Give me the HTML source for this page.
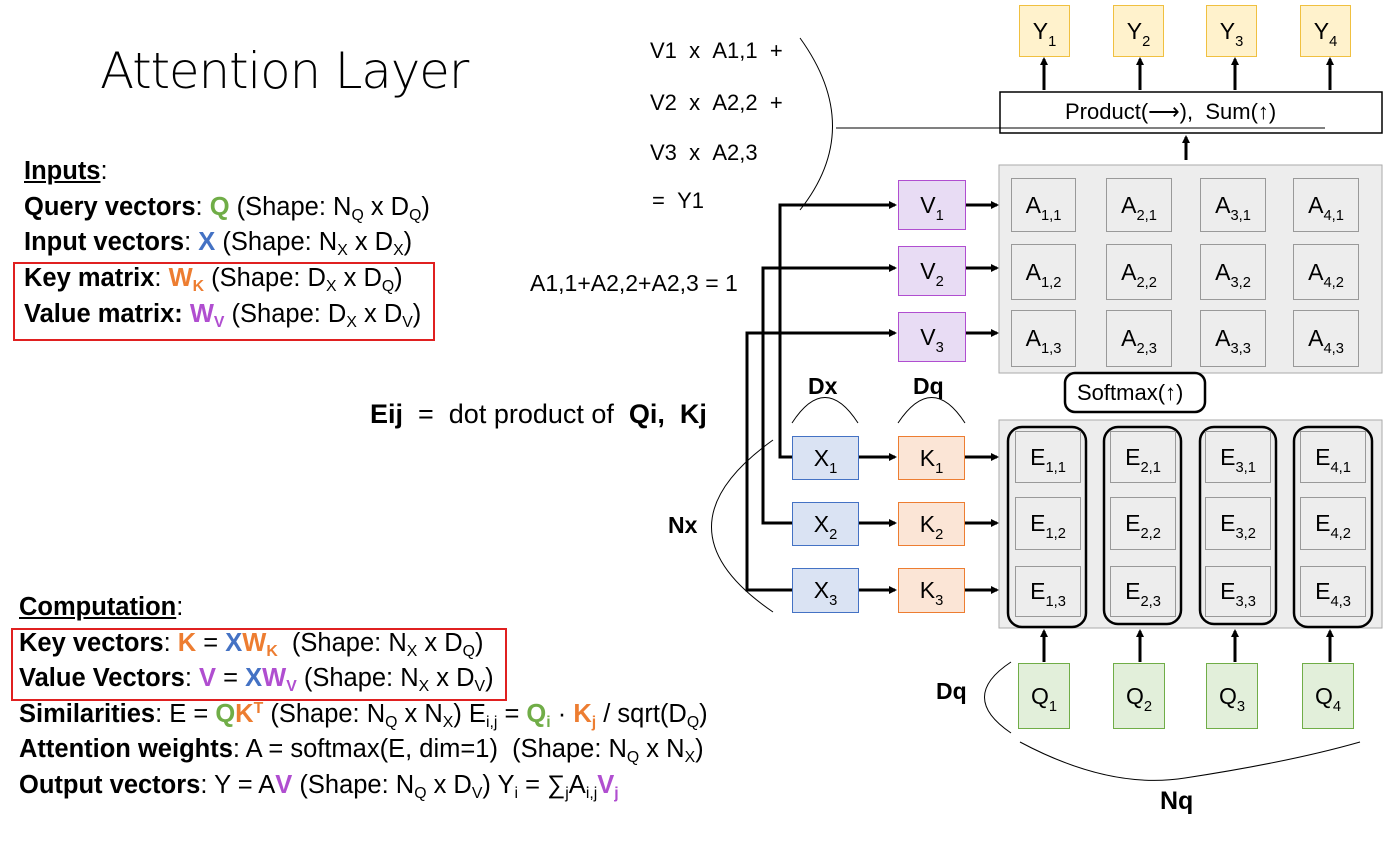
<!DOCTYPE html>
<html><head><meta charset="utf-8"><style>
body{margin:0;width:1400px;height:847px;background:#fff;position:relative;overflow:hidden;font-family:"Liberation Sans",sans-serif;color:#000}
.t{position:absolute;white-space:nowrap}
.l{position:absolute;font-size:25.5px;white-space:nowrap;left:24px}
b{font-weight:bold}
sub{font-size:62%;vertical-align:-5px;line-height:0}
sup{font-size:62%;vertical-align:9px;line-height:0}
.g{color:#70ad47}.bl{color:#4472c4}.o{color:#ed7d31}.p{color:#b04ed0}
.c{position:absolute;display:flex;align-items:center;justify-content:center;font-size:23px;box-sizing:border-box}
.c span sub{font-size:64%;vertical-align:-7px}
</style></head><body>
<svg width="1400" height="847" style="position:absolute;left:0;top:0">
<defs><marker id="a" markerWidth="8" markerHeight="8" refX="6" refY="4" orient="auto" markerUnits="userSpaceOnUse"><path d="M0,0 L8,4 L0,8 z" fill="#000"/></marker></defs>
<rect x="14" y="263" width="420" height="77" fill="none" stroke="#e02020" stroke-width="2"/>
<rect x="12" y="629" width="494" height="71" fill="none" stroke="#e02020" stroke-width="2"/>
<rect x="999" y="165" width="383" height="208" fill="#ededed" stroke="#aaa"/>
<rect x="999" y="420" width="383" height="208" fill="#ededed" stroke="#aaa"/>
<rect x="1000" y="92" width="382" height="41" fill="#fff" stroke="#000" stroke-width="1.5"/>
<line x1="836" y1="128" x2="1325" y2="128" stroke="#000" stroke-width="1"/>
<path d="M800,38 Q865,128 800,210" fill="none" stroke="#000" stroke-width="1"/>
<path d="M773,440 Q650,528 773,612" fill="none" stroke="#000" stroke-width="1"/>
<path d="M1011,662 Q958,697 1011,733" fill="none" stroke="#000" stroke-width="1"/>
<path d="M1020,742 Q1110,790 1185,778 Q1290,762 1360,742" fill="none" stroke="#000" stroke-width="1"/>
<path d="M792,423 Q825,372 858,423" fill="none" stroke="#000" stroke-width="1"/>
<path d="M898,423 Q932,372 965,423" fill="none" stroke="#000" stroke-width="1"/>
<rect x="1065" y="373" width="140" height="39" rx="10" fill="#fff" stroke="#000" stroke-width="2.5"/>
<g fill="none" stroke="#000" stroke-width="2.5">
<rect x="1008" y="427" width="78" height="200" rx="14"/>
<rect x="1104" y="427" width="77" height="197" rx="14"/>
<rect x="1200" y="427" width="76" height="197" rx="14"/>
<rect x="1294" y="427" width="78" height="200" rx="14"/>
</g>
<g stroke="#000" stroke-width="3" fill="none" marker-end="url(#a)">
<path d="M792,457 L780,457 L780,205 L895,205"/>
<path d="M792,523 L763,523 L763,268 L895,268"/>
<path d="M792,590 L747,590 L747,333 L895,333"/>
<line x1="966" y1="205" x2="997" y2="205"/><line x1="966" y1="268" x2="997" y2="268"/><line x1="966" y1="333" x2="997" y2="333"/>
<line x1="859" y1="457" x2="895" y2="457"/><line x1="859" y1="523" x2="895" y2="523"/><line x1="859" y1="590" x2="895" y2="590"/>
<line x1="965" y1="457" x2="997" y2="457"/><line x1="965" y1="523" x2="997" y2="523"/><line x1="965" y1="590" x2="997" y2="590"/>
<line x1="1044" y1="662" x2="1044" y2="631"/><line x1="1140" y1="662" x2="1140" y2="631"/><line x1="1235" y1="662" x2="1235" y2="631"/><line x1="1330" y1="662" x2="1330" y2="631"/>
<line x1="1186" y1="160" x2="1186" y2="137"/>
<line x1="1044" y1="90" x2="1044" y2="59"/><line x1="1140" y1="90" x2="1140" y2="59"/><line x1="1235" y1="90" x2="1235" y2="59"/><line x1="1330" y1="90" x2="1330" y2="59"/>
</g>
</svg>
<div class="t" style="left:100px;top:42px;font-size:50px;font-family:'DejaVu Sans','Liberation Sans',sans-serif;font-weight:200;letter-spacing:-1.2px">Attention Layer</div>
<div class="l" style="top:157px"><b><u>Inputs</u></b>:</div>
<div class="l" style="top:193px"><b>Query vectors</b>: <b class="g">Q</b> (Shape: N<sub>Q</sub> x D<sub>Q</sub>)</div>
<div class="l" style="top:228px"><b>Input vectors</b>: <b class="bl">X</b> (Shape: N<sub>X</sub> x D<sub>X</sub>)</div>
<div class="l" style="top:264px"><b>Key matrix</b>: <b class="o">W<sub>K</sub></b> (Shape: D<sub>X</sub> x D<sub>Q</sub>)</div>
<div class="l" style="top:300px"><b>Value matrix: </b><b class="p">W<sub>V</sub></b> (Shape: D<sub>X</sub> x D<sub>V</sub>)</div>
<div class="l" style="top:593px;left:19px"><b><u>Computation</u></b>:</div>
<div class="l" style="top:629px;left:19px"><b>Key vectors</b>: <b class="o">K</b> = <b class="bl">X</b><b class="o">W<sub>K</sub></b> &nbsp;(Shape: N<sub>X</sub> x D<sub>Q</sub>)</div>
<div class="l" style="top:664px;left:19px"><b>Value Vectors</b>: <b class="p">V</b> = <b class="bl">X</b><b class="p">W<sub>V</sub></b> (Shape: N<sub>X</sub> x D<sub>V</sub>)</div>
<div class="l" style="top:700px;left:19px"><b>Similarities</b>: E = <b class="g">Q</b><b class="o">K<sup>T</sup></b> (Shape: N<sub>Q</sub> x N<sub>X</sub>) E<sub>i,j</sub> = <b class="g">Q<sub>i</sub></b> · <b class="o">K<sub>j</sub></b> / sqrt(D<sub>Q</sub>)</div>
<div class="l" style="top:735px;left:19px"><b>Attention weights</b>: A = softmax(E, dim=1) &nbsp;(Shape: N<sub>Q</sub> x N<sub>X</sub>)</div>
<div class="l" style="top:771px;left:19px"><b>Output vectors</b>: Y = A<b class="p">V</b> (Shape: N<sub>Q</sub> x D<sub>V</sub>) Y<sub>i</sub> = ∑<sub>j</sub>A<sub>i,j</sub><b class="p">V<sub>j</sub></b></div>
<div class="t" style="left:650px;top:38px;font-size:22px">V1 &nbsp;x &nbsp;A1,1 &nbsp;+</div>
<div class="t" style="left:650px;top:90px;font-size:22px">V2 &nbsp;x &nbsp;A2,2 &nbsp;+</div>
<div class="t" style="left:650px;top:140px;font-size:22px">V3 &nbsp;x &nbsp;A2,3</div>
<div class="t" style="left:652px;top:188px;font-size:22px">= &nbsp;Y1</div>
<div class="t" style="left:530px;top:270px;font-size:23px">A1,1+A2,2+A2,3 = 1</div>
<div class="t" style="left:370px;top:399px;font-size:27px"><b>Eij</b> &nbsp;= &nbsp;dot product of &nbsp;<b>Qi, &nbsp;Kj</b></div>
<div class="t" style="left:808px;top:373px;font-size:23px;font-weight:bold">Dx</div>
<div class="t" style="left:913px;top:373px;font-size:23px;font-weight:bold">Dq</div>
<div class="t" style="left:668px;top:512px;font-size:23px;font-weight:bold">Nx</div>
<div class="t" style="left:936px;top:678px;font-size:23px;font-weight:bold">Dq</div>
<div class="t" style="left:1160px;top:787px;font-size:25px;font-weight:bold">Nq</div>
<div class="t" style="left:1065px;top:99px;font-size:22px">Product(⟶), &nbsp;Sum(↑)</div>
<div class="t" style="left:1077px;top:380px;font-size:22px">Softmax(↑)</div>
<!-- Y -->
<div class="c" style="left:1019px;top:5px;width:51px;height:52px;background:#fff2cc;border:1px solid #f0c040"><span>Y<sub>1</sub></span></div>
<div class="c" style="left:1113px;top:5px;width:51px;height:52px;background:#fff2cc;border:1px solid #f0c040"><span>Y<sub>2</sub></span></div>
<div class="c" style="left:1206px;top:5px;width:51px;height:52px;background:#fff2cc;border:1px solid #f0c040"><span>Y<sub>3</sub></span></div>
<div class="c" style="left:1300px;top:5px;width:51px;height:52px;background:#fff2cc;border:1px solid #f0c040"><span>Y<sub>4</sub></span></div>
<!-- V -->
<div class="c" style="left:898px;top:180px;width:68px;height:50px;background:#e8dcf4;border:1px solid #b04ed0"><span>V<sub>1</sub></span></div>
<div class="c" style="left:898px;top:246px;width:68px;height:50px;background:#e8dcf4;border:1px solid #b04ed0"><span>V<sub>2</sub></span></div>
<div class="c" style="left:898px;top:312px;width:68px;height:50px;background:#e8dcf4;border:1px solid #b04ed0"><span>V<sub>3</sub></span></div>
<!-- X K -->
<div class="c" style="left:792px;top:436px;width:67px;height:44px;background:#dae3f3;border:1px solid #4472c4"><span>X<sub>1</sub></span></div>
<div class="c" style="left:792px;top:502px;width:67px;height:44px;background:#dae3f3;border:1px solid #4472c4"><span>X<sub>2</sub></span></div>
<div class="c" style="left:792px;top:568px;width:67px;height:45px;background:#dae3f3;border:1px solid #4472c4"><span>X<sub>3</sub></span></div>
<div class="c" style="left:898px;top:436px;width:67px;height:44px;background:#fbe5d6;border:1px solid #ed7d31"><span>K<sub>1</sub></span></div>
<div class="c" style="left:898px;top:502px;width:67px;height:44px;background:#fbe5d6;border:1px solid #ed7d31"><span>K<sub>2</sub></span></div>
<div class="c" style="left:898px;top:568px;width:67px;height:45px;background:#fbe5d6;border:1px solid #ed7d31"><span>K<sub>3</sub></span></div>
<!-- Q -->
<div class="c" style="left:1018px;top:663px;width:52px;height:66px;background:#e2efda;border:1px solid #70ad47"><span>Q<sub>1</sub></span></div>
<div class="c" style="left:1113px;top:663px;width:52px;height:66px;background:#e2efda;border:1px solid #70ad47"><span>Q<sub>2</sub></span></div>
<div class="c" style="left:1206px;top:663px;width:52px;height:66px;background:#e2efda;border:1px solid #70ad47"><span>Q<sub>3</sub></span></div>
<div class="c" style="left:1302px;top:663px;width:52px;height:66px;background:#e2efda;border:1px solid #70ad47"><span>Q<sub>4</sub></span></div>
<!-- A grid -->
<div class="c" style="left:1011px;top:178px;width:65px;height:54px;border:1px solid #999"><span>A<sub>1,1</sub></span></div>
<div class="c" style="left:1106px;top:178px;width:66px;height:54px;border:1px solid #999"><span>A<sub>2,1</sub></span></div>
<div class="c" style="left:1200px;top:178px;width:66px;height:54px;border:1px solid #999"><span>A<sub>3,1</sub></span></div>
<div class="c" style="left:1293px;top:178px;width:66px;height:54px;border:1px solid #999"><span>A<sub>4,1</sub></span></div>
<div class="c" style="left:1011px;top:244px;width:65px;height:56px;border:1px solid #999"><span>A<sub>1,2</sub></span></div>
<div class="c" style="left:1106px;top:244px;width:66px;height:56px;border:1px solid #999"><span>A<sub>2,2</sub></span></div>
<div class="c" style="left:1200px;top:244px;width:66px;height:56px;border:1px solid #999"><span>A<sub>3,2</sub></span></div>
<div class="c" style="left:1293px;top:244px;width:66px;height:56px;border:1px solid #999"><span>A<sub>4,2</sub></span></div>
<div class="c" style="left:1011px;top:310px;width:65px;height:57px;border:1px solid #999"><span>A<sub>1,3</sub></span></div>
<div class="c" style="left:1106px;top:310px;width:66px;height:57px;border:1px solid #999"><span>A<sub>2,3</sub></span></div>
<div class="c" style="left:1200px;top:310px;width:66px;height:57px;border:1px solid #999"><span>A<sub>3,3</sub></span></div>
<div class="c" style="left:1293px;top:310px;width:66px;height:57px;border:1px solid #999"><span>A<sub>4,3</sub></span></div>
<!-- E grid -->
<div class="c" style="left:1015px;top:431px;width:66px;height:52px;border:1px solid #999"><span>E<sub>1,1</sub></span></div>
<div class="c" style="left:1110px;top:431px;width:66px;height:52px;border:1px solid #999"><span>E<sub>2,1</sub></span></div>
<div class="c" style="left:1205px;top:431px;width:66px;height:52px;border:1px solid #999"><span>E<sub>3,1</sub></span></div>
<div class="c" style="left:1300px;top:431px;width:66px;height:52px;border:1px solid #999"><span>E<sub>4,1</sub></span></div>
<div class="c" style="left:1015px;top:497px;width:66px;height:53px;border:1px solid #999"><span>E<sub>1,2</sub></span></div>
<div class="c" style="left:1110px;top:497px;width:66px;height:53px;border:1px solid #999"><span>E<sub>2,2</sub></span></div>
<div class="c" style="left:1205px;top:497px;width:66px;height:53px;border:1px solid #999"><span>E<sub>3,2</sub></span></div>
<div class="c" style="left:1300px;top:497px;width:66px;height:53px;border:1px solid #999"><span>E<sub>4,2</sub></span></div>
<div class="c" style="left:1015px;top:566px;width:66px;height:51px;border:1px solid #999"><span>E<sub>1,3</sub></span></div>
<div class="c" style="left:1110px;top:566px;width:66px;height:51px;border:1px solid #999"><span>E<sub>2,3</sub></span></div>
<div class="c" style="left:1205px;top:566px;width:66px;height:51px;border:1px solid #999"><span>E<sub>3,3</sub></span></div>
<div class="c" style="left:1300px;top:566px;width:66px;height:51px;border:1px solid #999"><span>E<sub>4,3</sub></span></div>
</body></html>
